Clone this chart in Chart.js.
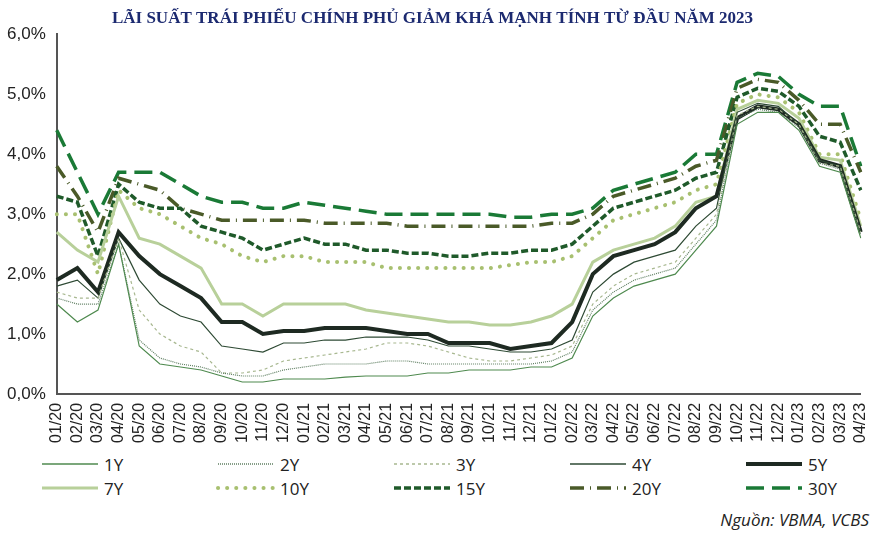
<!DOCTYPE html><html><head><meta charset="utf-8">
<script src="https://cdn.jsdelivr.net/npm/chart.js@4"></script>
<style>body{margin:0;background:#fff;font-family:"Open Sans",sans-serif}#w{position:relative;width:883px;height:450px}
#lg{position:absolute;left:0;top:452px;width:883px}.r{display:flex;height:24px;align-items:center}.i{width:176px;display:flex;align-items:center;font-size:17px;color:#222}.i svg{margin:0 4px 0 40px}
#src{position:absolute;right:14px;top:508px;font-style:italic;font-size:17px;color:#222}</style></head><body>
<div id="w"><canvas id="c"></canvas></div><div id="lg"></div><div id="src">Nguồn: VBMA, VCBS</div>
<script>
const labels=["01/20","02/20","03/20","04/20","05/20","06/20","07/20","08/20","09/20","10/20","11/20","12/20","01/21","02/21","03/21","04/21","05/21","06/21","07/21","08/21","09/21","10/21","11/21","12/21","01/22","02/22","03/22","04/22","05/22","06/22","07/22","08/22","09/22","10/22","11/22","12/22","01/23","02/23","03/23","04/23"];
const y1=[1.5,1.2,1.4,2.5,0.8,0.5,0.45,0.4,0.3,0.2,0.2,0.25,0.25,0.25,0.28,0.3,0.3,0.3,0.35,0.35,0.4,0.4,0.4,0.45,0.45,0.6,1.3,1.6,1.8,1.9,2.0,2.4,2.8,4.5,4.7,4.7,4.4,3.8,3.7,2.6];
const y2=[1.6,1.5,1.5,2.5,0.9,0.6,0.5,0.45,0.35,0.3,0.3,0.4,0.45,0.5,0.5,0.5,0.55,0.55,0.5,0.5,0.5,0.5,0.5,0.5,0.55,0.7,1.4,1.7,1.9,2.0,2.1,2.5,2.9,4.6,4.75,4.7,4.45,3.85,3.75,2.65];
const y3=[1.7,1.6,1.6,2.6,1.4,1.0,0.8,0.7,0.35,0.35,0.4,0.55,0.6,0.65,0.7,0.75,0.85,0.85,0.8,0.7,0.6,0.55,0.55,0.6,0.65,0.8,1.5,1.8,2.0,2.1,2.2,2.6,3.0,4.65,4.8,4.75,4.5,3.85,3.8,2.7];
const y4=[1.8,1.9,1.6,2.6,1.9,1.5,1.3,1.2,0.8,0.75,0.7,0.85,0.85,0.9,0.9,0.95,0.95,0.95,0.9,0.8,0.8,0.75,0.7,0.7,0.75,0.9,1.7,2.0,2.2,2.3,2.4,2.8,3.1,4.7,4.85,4.8,4.5,3.9,3.8,2.7];
const y5=[1.9,2.1,1.7,2.7,2.3,2.0,1.8,1.6,1.2,1.2,1.0,1.05,1.05,1.1,1.1,1.1,1.05,1.0,1.0,0.85,0.85,0.85,0.75,0.8,0.85,1.2,2.0,2.3,2.4,2.5,2.7,3.1,3.3,4.6,4.8,4.75,4.5,3.9,3.8,2.7];
const y7=[2.7,2.4,2.2,3.3,2.6,2.5,2.3,2.1,1.5,1.5,1.3,1.5,1.5,1.5,1.5,1.4,1.35,1.3,1.25,1.2,1.2,1.15,1.15,1.2,1.3,1.5,2.2,2.4,2.5,2.6,2.8,3.2,3.3,4.75,4.9,4.85,4.6,3.95,3.9,2.8];
const y10=[3.0,3.0,2.0,3.4,3.1,3.0,2.8,2.6,2.5,2.3,2.2,2.3,2.3,2.2,2.2,2.2,2.1,2.1,2.1,2.1,2.1,2.1,2.15,2.2,2.2,2.3,2.6,2.9,3.0,3.1,3.2,3.4,3.5,4.85,5.0,4.95,4.7,4.0,4.0,2.9];
const y15=[3.3,3.2,2.3,3.5,3.2,3.1,3.1,2.8,2.7,2.6,2.4,2.5,2.6,2.5,2.5,2.4,2.4,2.35,2.35,2.3,2.3,2.35,2.35,2.4,2.4,2.5,2.8,3.1,3.2,3.3,3.4,3.6,3.7,4.95,5.1,5.05,4.8,4.3,4.2,3.4];
const y20=[3.8,3.3,2.7,3.6,3.5,3.4,3.1,3.0,2.9,2.9,2.9,2.9,2.9,2.85,2.85,2.85,2.85,2.8,2.8,2.8,2.8,2.8,2.8,2.8,2.85,2.85,3.0,3.3,3.4,3.5,3.6,3.8,3.9,5.1,5.25,5.2,4.9,4.5,4.5,3.7];
const y30=[4.4,3.7,3.0,3.7,3.7,3.7,3.5,3.3,3.2,3.2,3.1,3.1,3.2,3.15,3.1,3.05,3.0,3.0,3.0,3.0,3.0,3.0,2.95,2.95,3.0,3.0,3.1,3.4,3.5,3.6,3.7,4.0,4.0,5.2,5.35,5.3,5.0,4.8,4.8,3.8];
const yTicks=[0,1,2,3,4,5,6];
const S=[["1Y",y1,"#4f8a4f",1.2,[]],["2Y",y2,"#5f7f62",1.2,[1,1]],["3Y",y3,"#a8b890",1.2,[3,3]],["4Y",y4,"#2e4a34",1.2,[]],["5Y",y5,"#1e2a22",4,[]],
["7Y",y7,"#b8d09a",3,[]],["10Y",y10,"#a8c070",4,[0.1,9]],["15Y",y15,"#1f5a2a",3.5,[7,3]],["20Y",y20,"#4a5a28",3.5,[14,6,1,6]],["30Y",y30,"#1a7a36",3.5,[18,8]]];
new Chart(document.getElementById('c'),{type:'line',data:{labels,datasets:S.map(s=>({label:s[0],data:s[1],borderColor:s[2],borderWidth:s[3],borderDash:s[4],borderCapStyle:s[0]=="10Y"?"round":"butt",pointRadius:0,tension:0,fill:false}))},
options:{animation:false,responsive:true,maintainAspectRatio:false,layout:{padding:{left:4,right:22,top:0,bottom:4}},
plugins:{legend:{display:false},title:{display:true,text:"LÃI SUẤT TRÁI PHIẾU CHÍNH PHỦ GIẢM KHÁ MẠNH TÍNH TỪ ĐẦU NĂM 2023",color:"#1c2a70",font:{family:"Liberation Serif",size:17,weight:"bold"},padding:{top:8,bottom:6}}},
scales:{x:{grid:{display:false,drawTicks:true,tickLength:6,tickColor:"#555"},border:{color:"#555",width:2},ticks:{autoSkip:false,maxRotation:90,minRotation:90,color:"#222",font:{size:16}}},
y:{min:0,max:6,grid:{display:false},border:{color:"#555",width:2},afterBuildTicks:a=>{a.ticks=yTicks.map(v=>({value:v}))},ticks:{color:"#222",font:{size:17},callback:v=>v.toFixed(1).replace('.',',')+'%'}}}}});
const lg=document.getElementById('lg');
for(let r=0;r<2;r++){const d=document.createElement('div');d.className='r';for(let k=0;k<5;k++){const s=S[r*5+k];
d.innerHTML+=`<div class="i"><svg width="60" height="10"><line x1="2" y1="5" x2="58" y2="5" stroke="${s[2]}" stroke-width="${Math.max(s[3],1.5)}" stroke-dasharray="${s[4].join(' ')}" stroke-linecap="${s[0]=='10Y'?'round':'butt'}"/></svg>${s[0]}</div>`;}lg.appendChild(d);}
</script></body></html>
